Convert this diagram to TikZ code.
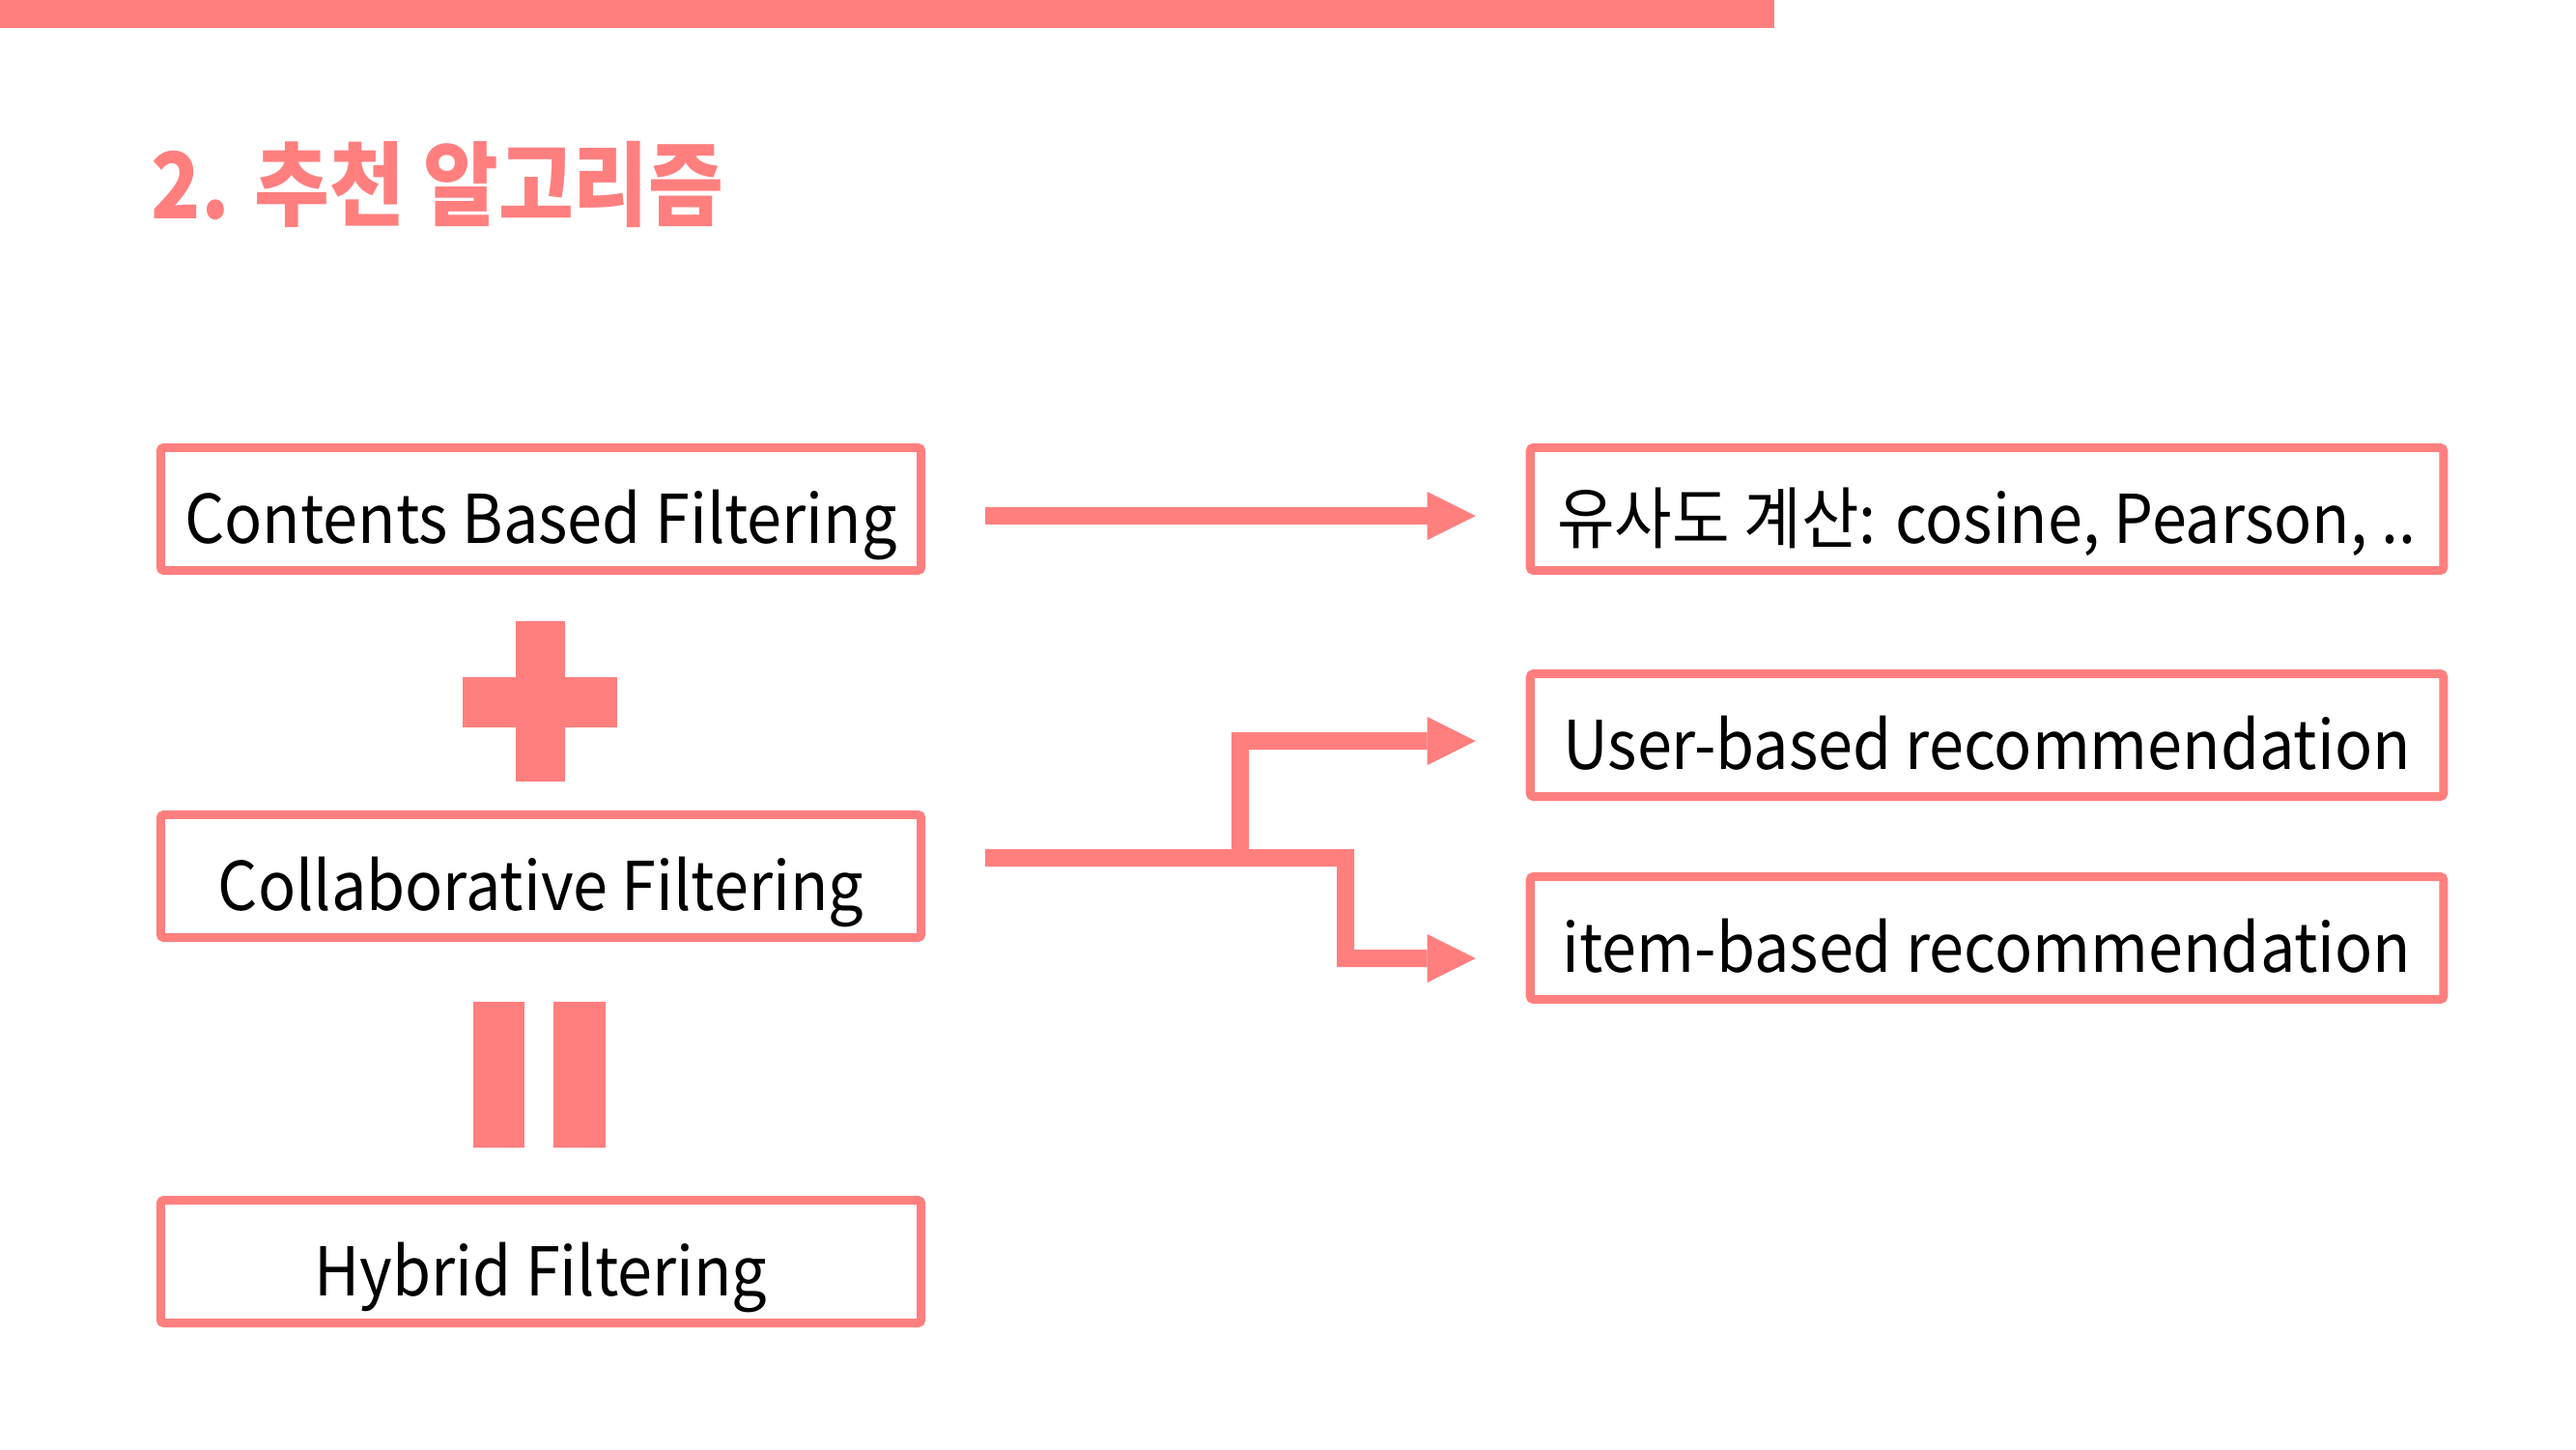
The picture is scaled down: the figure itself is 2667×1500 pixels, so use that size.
\documentclass[tikz,border=0pt]{standalone}
\usepackage{fontspec}
\setmainfont{Noto Sans CJK KR}
\newfontfamily\titlefont[FakeStretch=0.89]{Noto Sans CJK KR}
\newfontfamily\bodyfont[FakeStretch=0.93]{Noto Sans CJK KR}
\usetikzlibrary{positioning, arrows.meta}
\definecolor{salmon}{HTML}{FF7F7F}

\tikzset{
  filterbox/.style={draw=salmon, line width=0.09cm, rounded corners=1pt,
    minimum width=7.87cm, minimum height=1.27cm, inner sep=0pt,
    text height=0.71cm, text depth=0cm, font=\bodyfont\fontsize{19.8pt}{24pt}\selectfont},
  methodbox/.style={filterbox, minimum width=9.45cm},
  flow/.style={draw=salmon, line width=0.18cm, line join=miter,
    -{Triangle[length=0.5cm, width=0.5cm, line width=0pt]}},
}

\begin{document}
\begin{tikzpicture}[x=0.01cm, y=-0.01cm]
  \useasboundingbox (0,0) rectangle (2667,1500);
  \fill[salmon] (0,0) rectangle (1837,29);
  \node[anchor=base west, inner sep=0pt, text=salmon,
        font=\titlefont\bfseries\fontsize{27pt}{30pt}\selectfont] (title) at (156,226) {2. 추천 알고리즘};

  \node[filterbox] (cbf) at (560,527) {Contents Based Filtering};
  \node[filterbox] (cf) at (560,907) {Collaborative Filtering};
  \node[filterbox] (hf) at (560,1306) {Hybrid Filtering};

  \node[methodbox] (sim) at (2057,527) {유사도 계산: cosine, Pearson, ..};
  \node[methodbox] (user) at (2057,761) {User-based recommendation};
  \node[methodbox] (item) at (2057,971) {item-based recommendation};

  % plus and equals
  \fill[salmon] (534,643) rectangle (585,809);
  \fill[salmon] (479,701) rectangle (639,753);
  \fill[salmon] (490,1037) rectangle (543,1188);
  \fill[salmon] (573,1037) rectangle (627,1188);

  \draw[flow] ([shift={(62,7)}]cbf.east) -- ([shift={(-52,7)}]sim.west);

  \coordinate (split) at (1284,888);
  \coordinate (bend) at (1393,888);
  \draw[flow] ([shift={(62,-19)}]cf.east) -- (bend) -- ([yshift=-0.21cm]bend |- item.west) -- ([shift={(-52,21)}]item.west);
  \draw[flow] (split) -- ([yshift=-0.06cm]split |- user.west) -- ([shift={(-52,6)}]user.west);
\end{tikzpicture}
\end{document}
